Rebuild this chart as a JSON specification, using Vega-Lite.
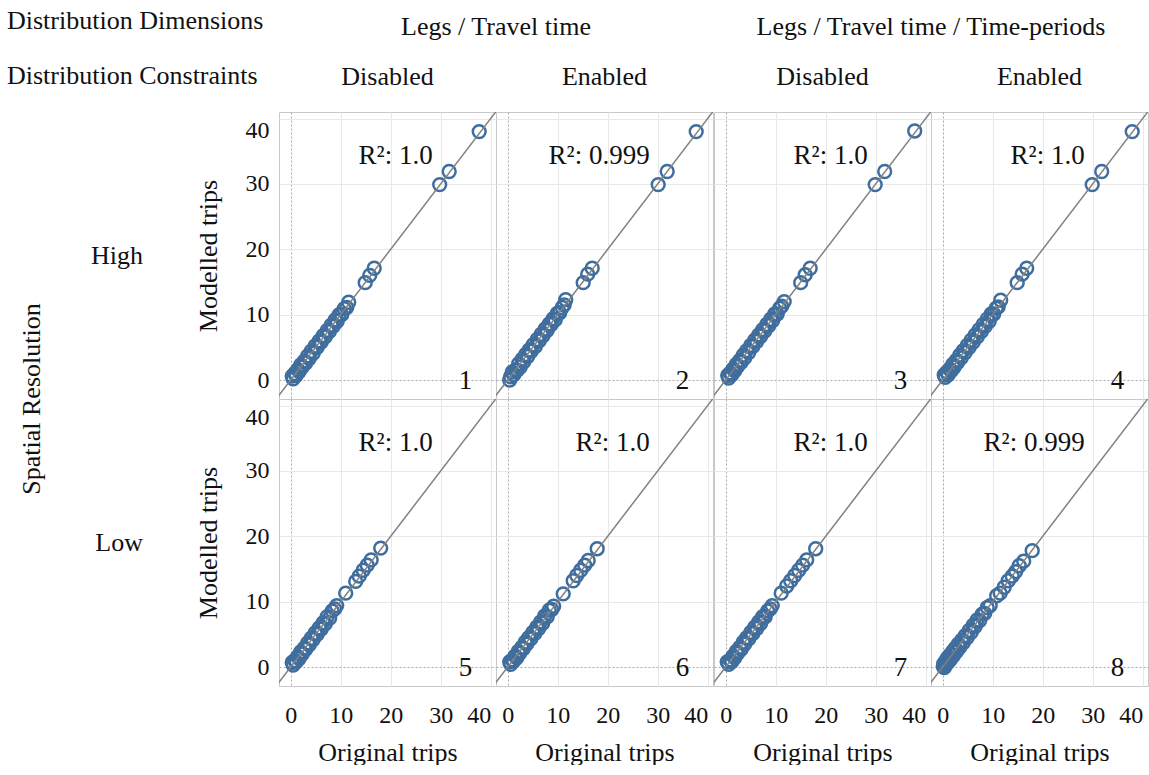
{
  "$schema": "https://vega.github.io/schema/vega-lite/v6.json",
  "background": "white",
  "padding": {"left": 7, "top": 8, "right": 0, "bottom": 0},
  "title": {"text": ["Distribution Dimensions", "Distribution Constraints"], "anchor": "start", "frame": "bounds", "font": "Liberation Serif", "fontSize": 26, "fontWeight": "normal", "color": "#111111", "lineHeight": 55, "dx": -12, "dy": 75, "offset": 0},
  "datasets": {
    "panels": [
      {"p": 1, "dim": "Legs / Travel time", "con": "Disabled", "res": "High", "r2": "R²: 1.0"},
      {"p": 2, "dim": "Legs / Travel time", "con": "Enabled", "res": "High", "r2": "R²: 0.999"},
      {"p": 3, "dim": "Legs / Travel time / Time-periods", "con": "Disabled", "res": "High", "r2": "R²: 1.0"},
      {"p": 4, "dim": "Legs / Travel time / Time-periods", "con": "Enabled", "res": "High", "r2": "R²: 1.0"},
      {"p": 5, "dim": "Legs / Travel time", "con": "Disabled", "res": "Low", "r2": "R²: 1.0"},
      {"p": 6, "dim": "Legs / Travel time", "con": "Enabled", "res": "Low", "r2": "R²: 1.0"},
      {"p": 7, "dim": "Legs / Travel time / Time-periods", "con": "Disabled", "res": "Low", "r2": "R²: 1.0"},
      {"p": 8, "dim": "Legs / Travel time / Time-periods", "con": "Enabled", "res": "Low", "r2": "R²: 0.999"}
    ],
    "pts": [
      {"p": 1, "m": 1}, {"p": 2, "m": 1}, {"p": 3, "m": 1}, {"p": 4, "m": 1},
      {"p": 5, "m": 1}, {"p": 6, "m": 1}, {"p": 7, "m": 1}, {"p": 8, "m": 1},
      {"p":1,"x":0.3,"y":0.6},{"p":1,"x":0.5,"y":0.2},{"p":1,"x":0.8,"y":1.0},{"p":1,"x":1.1,"y":0.7},{"p":1,"x":1.4,"y":1.6},{"p":1,"x":1.7,"y":1.3},{"p":1,"x":2.0,"y":2.3},{"p":1,"x":2.3,"y":2.0},{"p":1,"x":2.7,"y":2.9},{"p":1,"x":3.0,"y":2.6},{"p":1,"x":3.4,"y":3.7},{"p":1,"x":3.7,"y":3.3},{"p":1,"x":4.1,"y":4.4},{"p":1,"x":4.5,"y":4.1},{"p":1,"x":4.9,"y":5.2},{"p":1,"x":5.3,"y":5.0},{"p":1,"x":5.7,"y":6.0},{"p":1,"x":6.1,"y":5.8},{"p":1,"x":6.5,"y":6.8},{"p":1,"x":6.9,"y":6.6},{"p":1,"x":7.3,"y":7.6},{"p":1,"x":7.7,"y":7.4},{"p":1,"x":8.1,"y":8.4},{"p":1,"x":8.5,"y":8.2},{"p":1,"x":8.9,"y":9.2},{"p":1,"x":9.3,"y":9.0},{"p":1,"x":9.7,"y":10.0},{"p":1,"x":10.2,"y":10.0},{"p":1,"x":10.7,"y":10.9},{"p":1,"x":11.2,"y":11.1},{"p":1,"x":11.6,"y":11.9},{"p":1,"x":14.9,"y":14.9},{"p":1,"x":15.8,"y":16.0},{"p":1,"x":16.7,"y":17.1},{"p":1,"x":29.8,"y":29.9},{"p":1,"x":31.7,"y":31.9},{"p":1,"x":37.7,"y":38.0},
      {"p":2,"x":0.4,"y":0.0},{"p":2,"x":0.6,"y":0.5},{"p":2,"x":0.9,"y":1.2},{"p":2,"x":1.2,"y":0.8},{"p":2,"x":1.5,"y":1.5},{"p":2,"x":1.9,"y":1.5},{"p":2,"x":2.2,"y":2.5},{"p":2,"x":2.5,"y":2.0},{"p":2,"x":2.9,"y":3.2},{"p":2,"x":3.2,"y":2.8},{"p":2,"x":3.6,"y":3.9},{"p":2,"x":4.0,"y":3.6},{"p":2,"x":4.3,"y":4.6},{"p":2,"x":4.7,"y":4.4},{"p":2,"x":5.1,"y":5.4},{"p":2,"x":5.5,"y":5.1},{"p":2,"x":5.9,"y":6.2},{"p":2,"x":6.3,"y":6.0},{"p":2,"x":6.7,"y":7.0},{"p":2,"x":7.1,"y":6.8},{"p":2,"x":7.5,"y":7.8},{"p":2,"x":7.9,"y":7.6},{"p":2,"x":8.3,"y":8.6},{"p":2,"x":8.7,"y":8.5},{"p":2,"x":9.1,"y":9.4},{"p":2,"x":9.5,"y":9.2},{"p":2,"x":9.9,"y":10.2},{"p":2,"x":10.4,"y":10.3},{"p":2,"x":10.9,"y":11.1},{"p":2,"x":11.3,"y":11.5},{"p":2,"x":11.6,"y":12.3},{"p":2,"x":15.1,"y":14.9},{"p":2,"x":16.0,"y":16.2},{"p":2,"x":16.9,"y":17.1},{"p":2,"x":30.1,"y":29.9},{"p":2,"x":31.9,"y":31.9},{"p":2,"x":37.7,"y":38.0},
      {"p":3,"x":0.4,"y":0.7},{"p":3,"x":0.6,"y":0.3},{"p":3,"x":0.9,"y":1.1},{"p":3,"x":1.2,"y":0.8},{"p":3,"x":1.5,"y":1.7},{"p":3,"x":1.8,"y":1.4},{"p":3,"x":2.1,"y":2.4},{"p":3,"x":2.4,"y":2.1},{"p":3,"x":2.8,"y":3.0},{"p":3,"x":3.1,"y":2.7},{"p":3,"x":3.5,"y":3.8},{"p":3,"x":3.8,"y":3.4},{"p":3,"x":4.2,"y":4.5},{"p":3,"x":4.6,"y":4.2},{"p":3,"x":5.0,"y":5.3},{"p":3,"x":5.4,"y":5.1},{"p":3,"x":5.8,"y":6.1},{"p":3,"x":6.2,"y":5.9},{"p":3,"x":6.6,"y":6.9},{"p":3,"x":7.0,"y":6.7},{"p":3,"x":7.4,"y":7.7},{"p":3,"x":7.8,"y":7.5},{"p":3,"x":8.2,"y":8.5},{"p":3,"x":8.6,"y":8.3},{"p":3,"x":9.0,"y":9.3},{"p":3,"x":9.4,"y":9.1},{"p":3,"x":9.8,"y":10.1},{"p":3,"x":10.3,"y":10.1},{"p":3,"x":10.8,"y":11.0},{"p":3,"x":11.2,"y":11.3},{"p":3,"x":11.7,"y":12.0},{"p":3,"x":15.0,"y":14.9},{"p":3,"x":15.9,"y":16.1},{"p":3,"x":16.9,"y":17.1},{"p":3,"x":29.9,"y":29.9},{"p":3,"x":31.8,"y":31.9},{"p":3,"x":37.8,"y":38.1},
      {"p":4,"x":0.3,"y":0.8},{"p":4,"x":0.5,"y":0.4},{"p":4,"x":0.8,"y":1.2},{"p":4,"x":1.1,"y":0.8},{"p":4,"x":1.4,"y":1.7},{"p":4,"x":1.7,"y":1.4},{"p":4,"x":2.0,"y":2.4},{"p":4,"x":2.3,"y":2.0},{"p":4,"x":2.7,"y":3.0},{"p":4,"x":3.0,"y":2.7},{"p":4,"x":3.4,"y":3.8},{"p":4,"x":3.7,"y":3.4},{"p":4,"x":4.1,"y":4.5},{"p":4,"x":4.5,"y":4.2},{"p":4,"x":4.9,"y":5.3},{"p":4,"x":5.3,"y":5.0},{"p":4,"x":5.7,"y":6.1},{"p":4,"x":6.1,"y":5.8},{"p":4,"x":6.5,"y":6.9},{"p":4,"x":6.9,"y":6.6},{"p":4,"x":7.3,"y":7.7},{"p":4,"x":7.7,"y":7.4},{"p":4,"x":8.1,"y":8.5},{"p":4,"x":8.5,"y":8.2},{"p":4,"x":8.9,"y":9.3},{"p":4,"x":9.3,"y":9.0},{"p":4,"x":9.7,"y":10.1},{"p":4,"x":10.2,"y":10.1},{"p":4,"x":10.7,"y":11.0},{"p":4,"x":11.1,"y":11.2},{"p":4,"x":11.6,"y":12.2},{"p":4,"x":14.9,"y":14.9},{"p":4,"x":15.9,"y":16.2},{"p":4,"x":16.8,"y":17.1},{"p":4,"x":29.9,"y":29.9},{"p":4,"x":31.8,"y":31.9},{"p":4,"x":37.9,"y":38.0},
      {"p":5,"x":0.3,"y":0.7},{"p":5,"x":0.5,"y":0.3},{"p":5,"x":0.8,"y":1.0},{"p":5,"x":1.1,"y":0.8},{"p":5,"x":1.4,"y":1.6},{"p":5,"x":1.7,"y":1.3},{"p":5,"x":2.0,"y":2.3},{"p":5,"x":2.3,"y":2.0},{"p":5,"x":2.7,"y":2.9},{"p":5,"x":3.0,"y":2.7},{"p":5,"x":3.4,"y":3.7},{"p":5,"x":3.7,"y":3.4},{"p":5,"x":4.1,"y":4.4},{"p":5,"x":4.5,"y":4.2},{"p":5,"x":4.9,"y":5.2},{"p":5,"x":5.3,"y":5.0},{"p":5,"x":5.7,"y":6.0},{"p":5,"x":6.1,"y":5.8},{"p":5,"x":6.5,"y":6.8},{"p":5,"x":6.9,"y":6.6},{"p":5,"x":7.3,"y":7.7},{"p":5,"x":7.8,"y":7.5},{"p":5,"x":8.3,"y":8.6},{"p":5,"x":8.8,"y":8.9},{"p":5,"x":9.2,"y":9.4},{"p":5,"x":11.0,"y":11.3},{"p":5,"x":13.0,"y":13.1},{"p":5,"x":13.7,"y":13.9},{"p":5,"x":14.5,"y":14.8},{"p":5,"x":15.3,"y":15.6},{"p":5,"x":16.1,"y":16.4},{"p":5,"x":18.0,"y":18.2},
      {"p":6,"x":0.4,"y":0.8},{"p":6,"x":0.6,"y":0.4},{"p":6,"x":0.9,"y":1.1},{"p":6,"x":1.2,"y":0.9},{"p":6,"x":1.5,"y":1.7},{"p":6,"x":1.8,"y":1.4},{"p":6,"x":2.1,"y":2.4},{"p":6,"x":2.4,"y":2.1},{"p":6,"x":2.8,"y":3.0},{"p":6,"x":3.1,"y":2.8},{"p":6,"x":3.5,"y":3.8},{"p":6,"x":3.8,"y":3.5},{"p":6,"x":4.2,"y":4.5},{"p":6,"x":4.6,"y":4.3},{"p":6,"x":5.0,"y":5.3},{"p":6,"x":5.4,"y":5.1},{"p":6,"x":5.8,"y":6.1},{"p":6,"x":6.2,"y":5.9},{"p":6,"x":6.6,"y":6.9},{"p":6,"x":7.0,"y":6.7},{"p":6,"x":7.4,"y":7.8},{"p":6,"x":7.9,"y":7.7},{"p":6,"x":8.3,"y":8.7},{"p":6,"x":8.8,"y":8.8},{"p":6,"x":9.2,"y":9.3},{"p":6,"x":11.1,"y":11.2},{"p":6,"x":13.1,"y":13.2},{"p":6,"x":13.8,"y":14.0},{"p":6,"x":14.6,"y":14.8},{"p":6,"x":15.4,"y":15.6},{"p":6,"x":16.1,"y":16.3},{"p":6,"x":17.9,"y":18.1},
      {"p":7,"x":0.3,"y":0.8},{"p":7,"x":0.6,"y":0.4},{"p":7,"x":0.9,"y":1.1},{"p":7,"x":1.2,"y":0.8},{"p":7,"x":1.5,"y":1.7},{"p":7,"x":1.8,"y":1.4},{"p":7,"x":2.1,"y":2.4},{"p":7,"x":2.4,"y":2.1},{"p":7,"x":2.8,"y":3.0},{"p":7,"x":3.1,"y":2.7},{"p":7,"x":3.5,"y":3.8},{"p":7,"x":3.8,"y":3.5},{"p":7,"x":4.2,"y":4.5},{"p":7,"x":4.6,"y":4.3},{"p":7,"x":5.0,"y":5.3},{"p":7,"x":5.4,"y":5.1},{"p":7,"x":5.8,"y":6.1},{"p":7,"x":6.2,"y":5.9},{"p":7,"x":6.6,"y":6.9},{"p":7,"x":7.0,"y":6.7},{"p":7,"x":7.4,"y":7.7},{"p":7,"x":7.9,"y":7.7},{"p":7,"x":8.4,"y":8.6},{"p":7,"x":8.9,"y":8.9},{"p":7,"x":9.3,"y":9.4},{"p":7,"x":11.1,"y":11.3},{"p":7,"x":12.2,"y":12.4},{"p":7,"x":13.0,"y":13.2},{"p":7,"x":13.8,"y":14.0},{"p":7,"x":14.6,"y":14.8},{"p":7,"x":15.4,"y":15.6},{"p":7,"x":16.2,"y":16.4},{"p":7,"x":18.0,"y":18.1},
      {"p":8,"x":0.1,"y":0.1},{"p":8,"x":0.2,"y":0.5},{"p":8,"x":0.3,"y":-0.1},{"p":8,"x":0.5,"y":0.8},{"p":8,"x":0.6,"y":0.3},{"p":8,"x":0.8,"y":1.2},{"p":8,"x":0.9,"y":0.6},{"p":8,"x":1.1,"y":1.5},{"p":8,"x":1.3,"y":0.9},{"p":8,"x":1.5,"y":1.9},{"p":8,"x":1.7,"y":1.3},{"p":8,"x":2.0,"y":2.4},{"p":8,"x":2.2,"y":1.8},{"p":8,"x":2.5,"y":2.9},{"p":8,"x":2.8,"y":2.4},{"p":8,"x":3.1,"y":3.5},{"p":8,"x":3.4,"y":3.0},{"p":8,"x":3.8,"y":4.1},{"p":8,"x":4.1,"y":3.7},{"p":8,"x":4.5,"y":4.8},{"p":8,"x":4.9,"y":4.5},{"p":8,"x":5.3,"y":5.6},{"p":8,"x":5.7,"y":5.3},{"p":8,"x":6.1,"y":6.4},{"p":8,"x":6.5,"y":6.2},{"p":8,"x":6.9,"y":7.2},{"p":8,"x":7.4,"y":7.1},{"p":8,"x":7.9,"y":8.1},{"p":8,"x":8.4,"y":8.2},{"p":8,"x":8.9,"y":9.1},{"p":8,"x":9.5,"y":9.4},{"p":8,"x":10.8,"y":10.9},{"p":8,"x":11.5,"y":11.3},{"p":8,"x":12.3,"y":12.2},{"p":8,"x":13.1,"y":13.2},{"p":8,"x":13.9,"y":13.9},{"p":8,"x":14.6,"y":14.6},{"p":8,"x":15.3,"y":15.5},{"p":8,"x":16.2,"y":16.2},{"p":8,"x":17.9,"y":17.8}
    ]
  },
  "spacing": -2,
  "hconcat": [
    {
      "data": {"name": "pts"},
      "transform": [
        {"lookup": "p", "from": {"data": {"name": "panels"}, "key": "p", "fields": ["dim", "con", "res", "r2"]}},
        {"filter": "datum.dim === 'Legs / Travel time'"}
      ],
      "facet": {
        "row": {"field": "res", "type": "nominal", "sort": ["High", "Low"], "title": "Spatial Resolution",
          "header": {"labelAngle": 0, "labelAlign": "left", "labelPadding": 52, "titleAngle": -90, "titlePadding": 10}},
        "column": {"field": "con", "type": "nominal", "sort": ["Disabled", "Enabled"], "title": "Legs / Travel time",
          "header": {"labelPadding": 22, "titlePadding": 14}}
      },
      "spacing": {"row": 0, "column": 0},
      "bounds": "flush",
      "spec": {
        "width": 217, "height": 287,
        "layer": [
          {
            "transform": [{"filter": "datum.m !== 1"}],
            "mark": {"type": "point", "shape": "circle", "filled": false, "size": 165, "strokeWidth": 2.5, "color": "#3f6e9e", "opacity": 1},
            "encoding": {
              "x": {"field": "x", "type": "quantitative", "scale": {"domain": [-2.34, 41.06], "nice": false, "zero": false},
                "axis": {"values": [0, 10, 20, 30, 40], "title": "Original trips", "labelFlush": 7, "labelOverlap": false, "labelPadding": 17, "minExtent": 40, "maxExtent": 40, "titlePadding": 13, "gridColor": {"condition": {"test": "datum.value === 0", "value": "#a8a8a8"}, "value": "#e8e8e8"}, "gridDash": {"condition": {"test": "datum.value === 0", "value": [2, 2]}, "value": []}}},
              "y": {"field": "y", "type": "quantitative", "scale": {"domain": [-2.9, 41.0], "nice": false, "zero": false},
                "axis": {"values": [0, 10, 20, 30, 40], "title": "Modelled trips", "labelFlush": 8, "labelOverlap": false, "labelPadding": 10, "titlePadding": 24, "gridColor": {"condition": {"test": "datum.value === 0", "value": "#a8a8a8"}, "value": "#e8e8e8"}, "gridDash": {"condition": {"test": "datum.value === 0", "value": [2, 2]}, "value": []}}}
            }
          },
          {
            "transform": [{"filter": "datum.m === 1"}],
            "mark": {"type": "rule", "clip": true, "color": "#808080", "strokeWidth": 1.5},
            "encoding": {"x": {"datum": -5, "type": "quantitative"}, "y": {"datum": -5, "type": "quantitative"}, "x2": {"datum": 50}, "y2": {"datum": 50}}
          },
          {
            "transform": [{"filter": "datum.m === 1"}],
            "mark": {"type": "text", "align": "right", "baseline": "middle", "font": "Liberation Serif", "fontSize": 27, "color": "#111111"},
            "encoding": {"x": {"datum": 28.4, "type": "quantitative"}, "y": {"datum": 34.3, "type": "quantitative"}, "text": {"field": "r2"}}
          },
          {
            "transform": [{"filter": "datum.m === 1"}],
            "mark": {"type": "text", "align": "right", "baseline": "middle", "font": "Liberation Serif", "fontSize": 27, "color": "#111111"},
            "encoding": {"x": {"datum": 36.3, "type": "quantitative"}, "y": {"datum": -0.2, "type": "quantitative"}, "text": {"field": "p"}}
          }
        ]
      }
    },
    {
      "data": {"name": "pts"},
      "transform": [
        {"lookup": "p", "from": {"data": {"name": "panels"}, "key": "p", "fields": ["dim", "con", "res", "r2"]}},
        {"filter": "datum.dim === 'Legs / Travel time / Time-periods'"}
      ],
      "facet": {
        "row": {"field": "res", "type": "nominal", "sort": ["High", "Low"], "header": null},
        "column": {"field": "con", "type": "nominal", "sort": ["Disabled", "Enabled"], "title": "Legs / Travel time / Time-periods",
          "header": {"labelPadding": 22, "titlePadding": 14}}
      },
      "spacing": {"row": 0, "column": 0},
      "bounds": "flush",
      "spec": {
        "width": 217, "height": 287,
        "layer": [
          {
            "transform": [{"filter": "datum.m !== 1"}],
            "mark": {"type": "point", "shape": "circle", "filled": false, "size": 165, "strokeWidth": 2.5, "color": "#3f6e9e", "opacity": 1},
            "encoding": {
              "x": {"field": "x", "type": "quantitative", "scale": {"domain": [-2.34, 41.06], "nice": false, "zero": false},
                "axis": {"values": [0, 10, 20, 30, 40], "title": "Original trips", "labelFlush": 7, "labelOverlap": false, "labelPadding": 17, "minExtent": 40, "maxExtent": 40, "titlePadding": 13, "gridColor": {"condition": {"test": "datum.value === 0", "value": "#a8a8a8"}, "value": "#e8e8e8"}, "gridDash": {"condition": {"test": "datum.value === 0", "value": [2, 2]}, "value": []}}},
              "y": {"field": "y", "type": "quantitative", "scale": {"domain": [-2.9, 41.0], "nice": false, "zero": false},
                "axis": {"values": [0, 10, 20, 30, 40], "labels": false, "title": null, "minExtent": 0, "maxExtent": 0, "gridColor": {"condition": {"test": "datum.value === 0", "value": "#a8a8a8"}, "value": "#e8e8e8"}, "gridDash": {"condition": {"test": "datum.value === 0", "value": [2, 2]}, "value": []}}}
            }
          },
          {
            "transform": [{"filter": "datum.m === 1"}],
            "mark": {"type": "rule", "clip": true, "color": "#808080", "strokeWidth": 1.5},
            "encoding": {"x": {"datum": -5, "type": "quantitative"}, "y": {"datum": -5, "type": "quantitative"}, "x2": {"datum": 50}, "y2": {"datum": 50}}
          },
          {
            "transform": [{"filter": "datum.m === 1"}],
            "mark": {"type": "text", "align": "right", "baseline": "middle", "font": "Liberation Serif", "fontSize": 27, "color": "#111111"},
            "encoding": {"x": {"datum": 28.4, "type": "quantitative"}, "y": {"datum": 34.3, "type": "quantitative"}, "text": {"field": "r2"}}
          },
          {
            "transform": [{"filter": "datum.m === 1"}],
            "mark": {"type": "text", "align": "right", "baseline": "middle", "font": "Liberation Serif", "fontSize": 27, "color": "#111111"},
            "encoding": {"x": {"datum": 36.3, "type": "quantitative"}, "y": {"datum": -0.2, "type": "quantitative"}, "text": {"field": "p"}}
          }
        ]
      }
    }
  ],
  "config": {
    "font": "Liberation Serif",
    "view": {"stroke": "#c8c8c8", "strokeWidth": 1},
    "axis": {"labelFont": "Liberation Serif", "titleFont": "Liberation Serif", "labelFontSize": 24, "titleFontSize": 26, "titleFontWeight": "normal", "labelColor": "#111111", "titleColor": "#111111", "ticks": false, "domain": false, "gridColor": "#e8e8e8", "gridWidth": 1, "labelOverlap": false},
    "header": {"labelFont": "Liberation Serif", "titleFont": "Liberation Serif", "labelFontSize": 26, "titleFontSize": 26, "titleFontWeight": "normal", "labelColor": "#111111", "titleColor": "#111111"}
  }
}
